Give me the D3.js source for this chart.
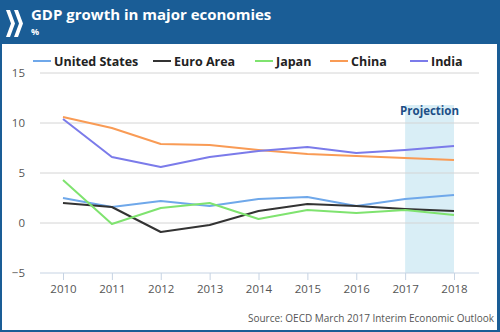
<!DOCTYPE html>
<html>
<head>
<meta charset="utf-8">
<script src="https://d3js.org/d3.v7.min.js"></script>
<style>
  body { margin: 0; background: #fff; }
  svg text { font-family: "Open Sans", "Noto Sans", sans-serif; }
</style>
</head>
<body>
<svg id="chart" width="500" height="332"></svg>
<script>
// GDP growth, % per year
const years = [2010, 2011, 2012, 2013, 2014, 2015, 2016, 2017, 2018]
const unitedStates = [2.5, 1.6, 2.2, 1.7, 2.4, 2.6, 1.7, 2.4, 2.8]
const euroArea = [2.0, 1.6, -0.9, -0.2, 1.2, 1.9, 1.7, 1.4, 1.2]
const japan = [4.3, -0.1, 1.5, 2.0, 0.4, 1.3, 1.0, 1.3, 0.8]
const china = [10.6, 9.5, 7.9, 7.8, 7.3, 6.9, 6.7, 6.5, 6.3]
const india = [10.4, 6.6, 5.6, 6.6, 7.2, 7.6, 7.0, 7.3, 7.7]
const seriesNames = ["United States", "Euro Area", "Japan", "China", "India"]
const yTicks = [-5, 0, 5, 10, 15]
const projectionYears = [2017, 2018]

const colors = ["#6fa8ea", "#333333", "#7fe36f", "#f99b55", "#7b7bea"]
const seriesValues = [unitedStates, euroArea, japan, china, india]

const W = 500, H = 332
const svg = d3.select("#chart")

// frame + header
svg.append("rect").attr("x", 0).attr("y", 0).attr("width", W).attr("height", H).attr("fill", "#1a5d96")
svg.append("rect").attr("x", 2).attr("y", 44).attr("width", W - 5).attr("height", H - 46).attr("fill", "#fff")

// logo chevrons
const chev = svg.append("g").attr("fill", "#fff")
chev.append("path").attr("d", "M6,10 L10,10 L15,23.5 L10,37 L6,37 L11,23.5 Z")
chev.append("path").attr("d", "M14,10 L18,10 L23,23.5 L18,37 L14,37 L19,23.5 Z")

svg.append("text").attr("x", 31).attr("y", 20).attr("fill", "#fff")
  .attr("font-size", 15).attr("font-weight", "bold").text("GDP growth in major economies")
svg.append("text").attr("x", 31).attr("y", 35).attr("fill", "#fff")
  .attr("font-size", 9).attr("font-weight", "bold").text("%")

const x = d3.scaleLinear().domain([2010, 2018]).range([63, 454])
const y = d3.scaleLinear().domain([-5, 15]).range([273, 73])

// projection band
const bandW = x(projectionYears[1]) - x(projectionYears[0])
svg.append("rect")
  .attr("x", x(projectionYears[0])).attr("y", 105)
  .attr("width", bandW).attr("height", y(-5) - 105)
  .attr("fill", "#d9eef6")
svg.append("text").attr("x", x(projectionYears[0]) + bandW / 2).attr("y", 115)
  .attr("text-anchor", "middle").attr("fill", "#1d4f86")
  .attr("font-size", 11.5).attr("font-weight", "bold").text("Projection")

// gridlines + y labels
svg.append("g").selectAll("line").data(yTicks.filter(d => d !== -5)).join("line")
  .attr("x1", 40).attr("x2", 479)
  .attr("y1", d => y(d)).attr("y2", d => y(d))
  .attr("stroke", "#d4d4d4").attr("stroke-width", 1)
svg.append("g").selectAll("text").data(yTicks).join("text")
  .attr("x", 25).attr("y", d => y(d) + 4)
  .attr("text-anchor", "end").attr("fill", "#555").attr("font-size", 11.5)
  .text(d => d < 0 ? "\u2212" + Math.abs(d) : d)

// x axis
const xAxis = svg.append("g").attr("transform", `translate(0,${y(-5)})`)
  .call(d3.axisBottom(x).tickValues(years).tickFormat(d3.format("d")).tickSize(7).tickSizeOuter(0))
xAxis.select(".domain").remove()
xAxis.append("line").attr("x1", 40).attr("x2", 479).attr("stroke", "#c6d3e3")
xAxis.selectAll(".tick line").attr("stroke", "#c6d3e3")
xAxis.selectAll(".tick text").attr("fill", "#555").attr("font-size", 11.5)
  .attr("font-family", "Open Sans, sans-serif").attr("dy", "0.85em")

// series
const line = d3.line().x((d, i) => x(years[i])).y(d => y(d))
svg.append("g").selectAll("path").data(seriesValues).join("path")
  .attr("d", line)
  .attr("fill", "none")
  .attr("stroke", (d, i) => colors[i])
  .attr("stroke-width", 2)
  .attr("stroke-linejoin", "round")

// legend
const legendX = [33, 153, 255, 330, 410]
const lg = svg.append("g").selectAll("g").data(seriesNames).join("g")
  .attr("transform", (d, i) => `translate(${legendX[i]},61)`)
lg.append("line").attr("x1", 0).attr("x2", 18).attr("y1", 0).attr("y2", 0)
  .attr("stroke", (d, i) => colors[i]).attr("stroke-width", 2)
lg.append("text").attr("x", 21).attr("y", 4.5)
  .attr("fill", "#222").attr("font-size", 12.5).attr("font-weight", "bold").text(d => d)

// source
svg.append("text").attr("x", 494).attr("y", 322).attr("text-anchor", "end")
  .attr("fill", "#555").attr("font-size", 10)
  .text("Source: OECD March 2017 Interim Economic Outlook")
</script>
</body>
</html>
